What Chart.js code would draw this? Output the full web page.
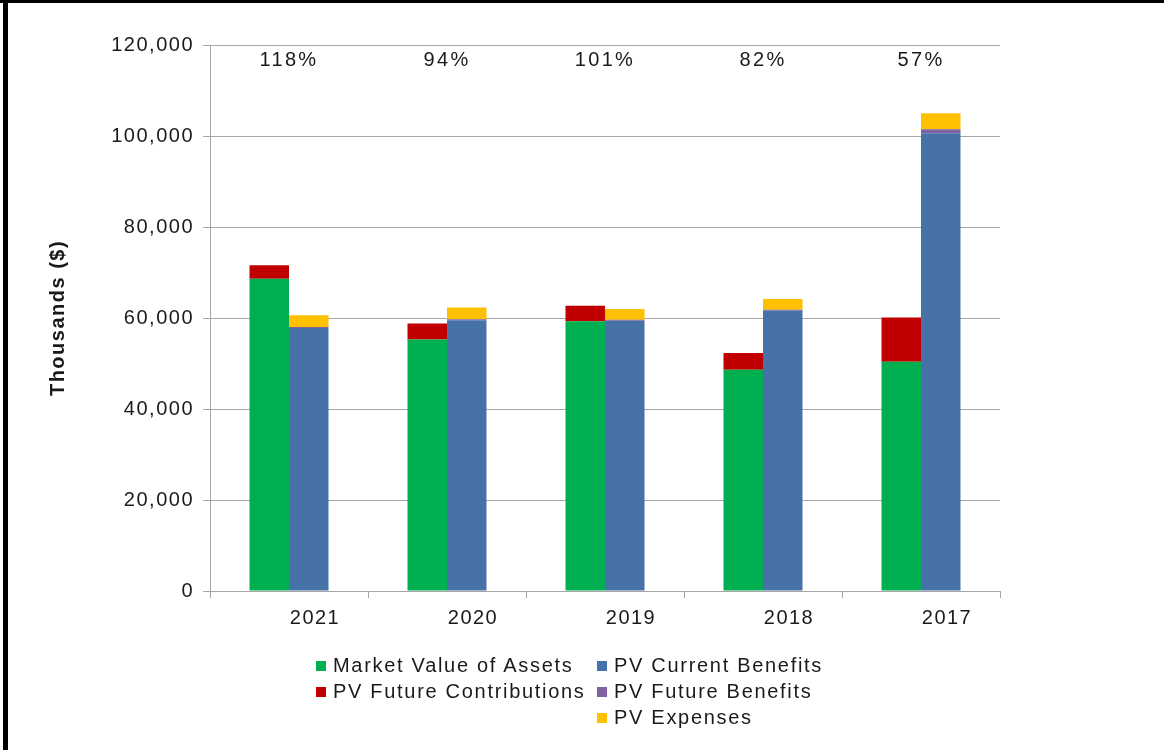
<!DOCTYPE html>
<html>
<head>
<meta charset="utf-8">
<script src="https://cdn.jsdelivr.net/npm/chart.js@4.4.1/dist/chart.umd.min.js"></script>
<style>
  body { margin: 0; background: #fff; font-family: "Liberation Sans", Arial, sans-serif; }
  #wrap { position: relative; width: 1164px; height: 750px; overflow: hidden; }
  #chart { position: absolute; left: 0; top: 0; }
  .edge-left { position: absolute; left: 3px; top: 0; width: 5px; height: 750px; background: #000; }
  .edge-top { position: absolute; left: 0; top: 0; width: 1164px; height: 3px; background: #000; }
  #legend { position: absolute; left: 316px; top: 652px; display: flex; }
  #legend .col { width: 281px; }
  #legend .item { height: 26px; line-height: 26px; font-size: 20px; color: #1a1a1a; white-space: nowrap; letter-spacing: 1.7px; }
  #legend .box { display: inline-block; width: 10px; height: 10px; margin-right: 7px; vertical-align: 1px; }
</style>
</head>
<body>
<div id="wrap">
  <canvas id="chart" width="1164" height="750"></canvas>
  <div class="edge-left"></div>
  <div class="edge-top"></div>
  <div id="legend"></div>
</div>
<script>
// values in thousands of dollars
var years = ['2021', '2020', '2019', '2018', '2017'];
var marketValue = [68600, 55300, 59300, 48600, 50400];
var futureContributions = [3000, 3500, 3400, 3700, 9700];
var currentBenefits = [57800, 59500, 59400, 61600, 100600];
var futureBenefits = [200, 200, 200, 200, 900];
var expenses = [2600, 2600, 2400, 2400, 3500];
var fundedRatio = ['118%', '94%', '101%', '82%', '57%'];
var yTicks = [0, 20000, 40000, 60000, 80000, 100000, 120000];

var FONT = '"Liberation Sans", Arial, sans-serif';
var TEXT = '#1a1a1a';
var GRID = '#a6a6a6';

var datasets = [
    { label: 'Market Value of Assets', data: marketValue, backgroundColor: '#00b050', stack: 'assets' },
    { label: 'PV Future Contributions', data: futureContributions, backgroundColor: '#c00000', stack: 'assets' },
    { label: 'PV Current Benefits', data: currentBenefits, backgroundColor: '#4672a8', stack: 'liab' },
    { label: 'PV Future Benefits', data: futureBenefits, backgroundColor: '#7f62a0', stack: 'liab' },
    { label: 'PV Expenses', data: expenses, backgroundColor: '#ffc000', stack: 'liab' }
];
datasets.forEach(function(d) {
    d.barPercentage = 1;
    d.categoryPercentage = 0.5;
    d.borderWidth = 0;
});

// the original text is drawn a bit wide, so space the letters out
var wideText = {
    id: 'wideText',
    beforeDraw: function(chart) {
        chart.ctx.letterSpacing = '1.5px';
    }
};

// funded ratio text above each year
var ratioLabels = {
    id: 'ratioLabels',
    afterDatasetsDraw: function(chart) {
        var ctx = chart.ctx;
        var x = chart.scales.x;
        ctx.save();
        ctx.letterSpacing = '2.3px';
        ctx.font = '20px ' + FONT;
        ctx.fillStyle = TEXT;
        ctx.textAlign = 'center';
        ctx.textBaseline = 'middle';
        for (var i = 0; i < fundedRatio.length; i++) {
            ctx.fillText(fundedRatio[i], x.getPixelForValue(i), chart.chartArea.top + 15);
        }
        ctx.restore();
    }
};

new Chart(document.getElementById('chart'), {
    type: 'bar',
    data: { labels: years, datasets: datasets },
    options: {
        responsive: false,
        animation: false,
        layout: { padding: { left: 40, right: 164, top: 45, bottom: 0 } },
        plugins: {
            legend: { display: false },
            tooltip: { enabled: false }
        },
        scales: {
            x: {
                stacked: true,
                grid: { display: true, drawOnChartArea: false, color: GRID, tickLength: 7, offset: true },
                border: { color: GRID },
                ticks: { color: TEXT, font: { family: FONT, size: 20 }, padding: 8, labelOffset: 26 },
                afterFit: function(s) { s.height = 159; }
            },
            y: {
                stacked: true,
                min: 0,
                max: 120000,
                afterBuildTicks: function(s) { s.ticks = yTicks.map(function(v) { return { value: v }; }); },
                grid: { color: GRID, tickLength: 7 },
                border: { color: GRID },
                ticks: {
                    color: TEXT,
                    font: { family: FONT, size: 20 },
                    padding: 9,
                    callback: function(v) { return v.toLocaleString('en-US'); }
                },
                title: {
                    display: true,
                    text: 'Thousands ($)',
                    color: TEXT,
                    font: { family: FONT, size: 20, weight: 'bold' },
                    padding: { top: 6, bottom: 0 }
                },
                afterFit: function(s) { s.width = 170; }
            }
        }
    },
    plugins: [wideText, ratioLabels]
});

// two-column legend like the original
var legendCols = [[0, 1], [2, 3, 4]];
var legend = document.getElementById('legend');
legendCols.forEach(function(col) {
    var c = document.createElement('div');
    c.className = 'col';
    col.forEach(function(idx) {
        var it = document.createElement('div');
        it.className = 'item';
        var b = document.createElement('span');
        b.className = 'box';
        b.style.background = datasets[idx].backgroundColor;
        it.appendChild(b);
        it.appendChild(document.createTextNode(datasets[idx].label));
        c.appendChild(it);
    });
    legend.appendChild(c);
});
</script>
</body>
</html>
